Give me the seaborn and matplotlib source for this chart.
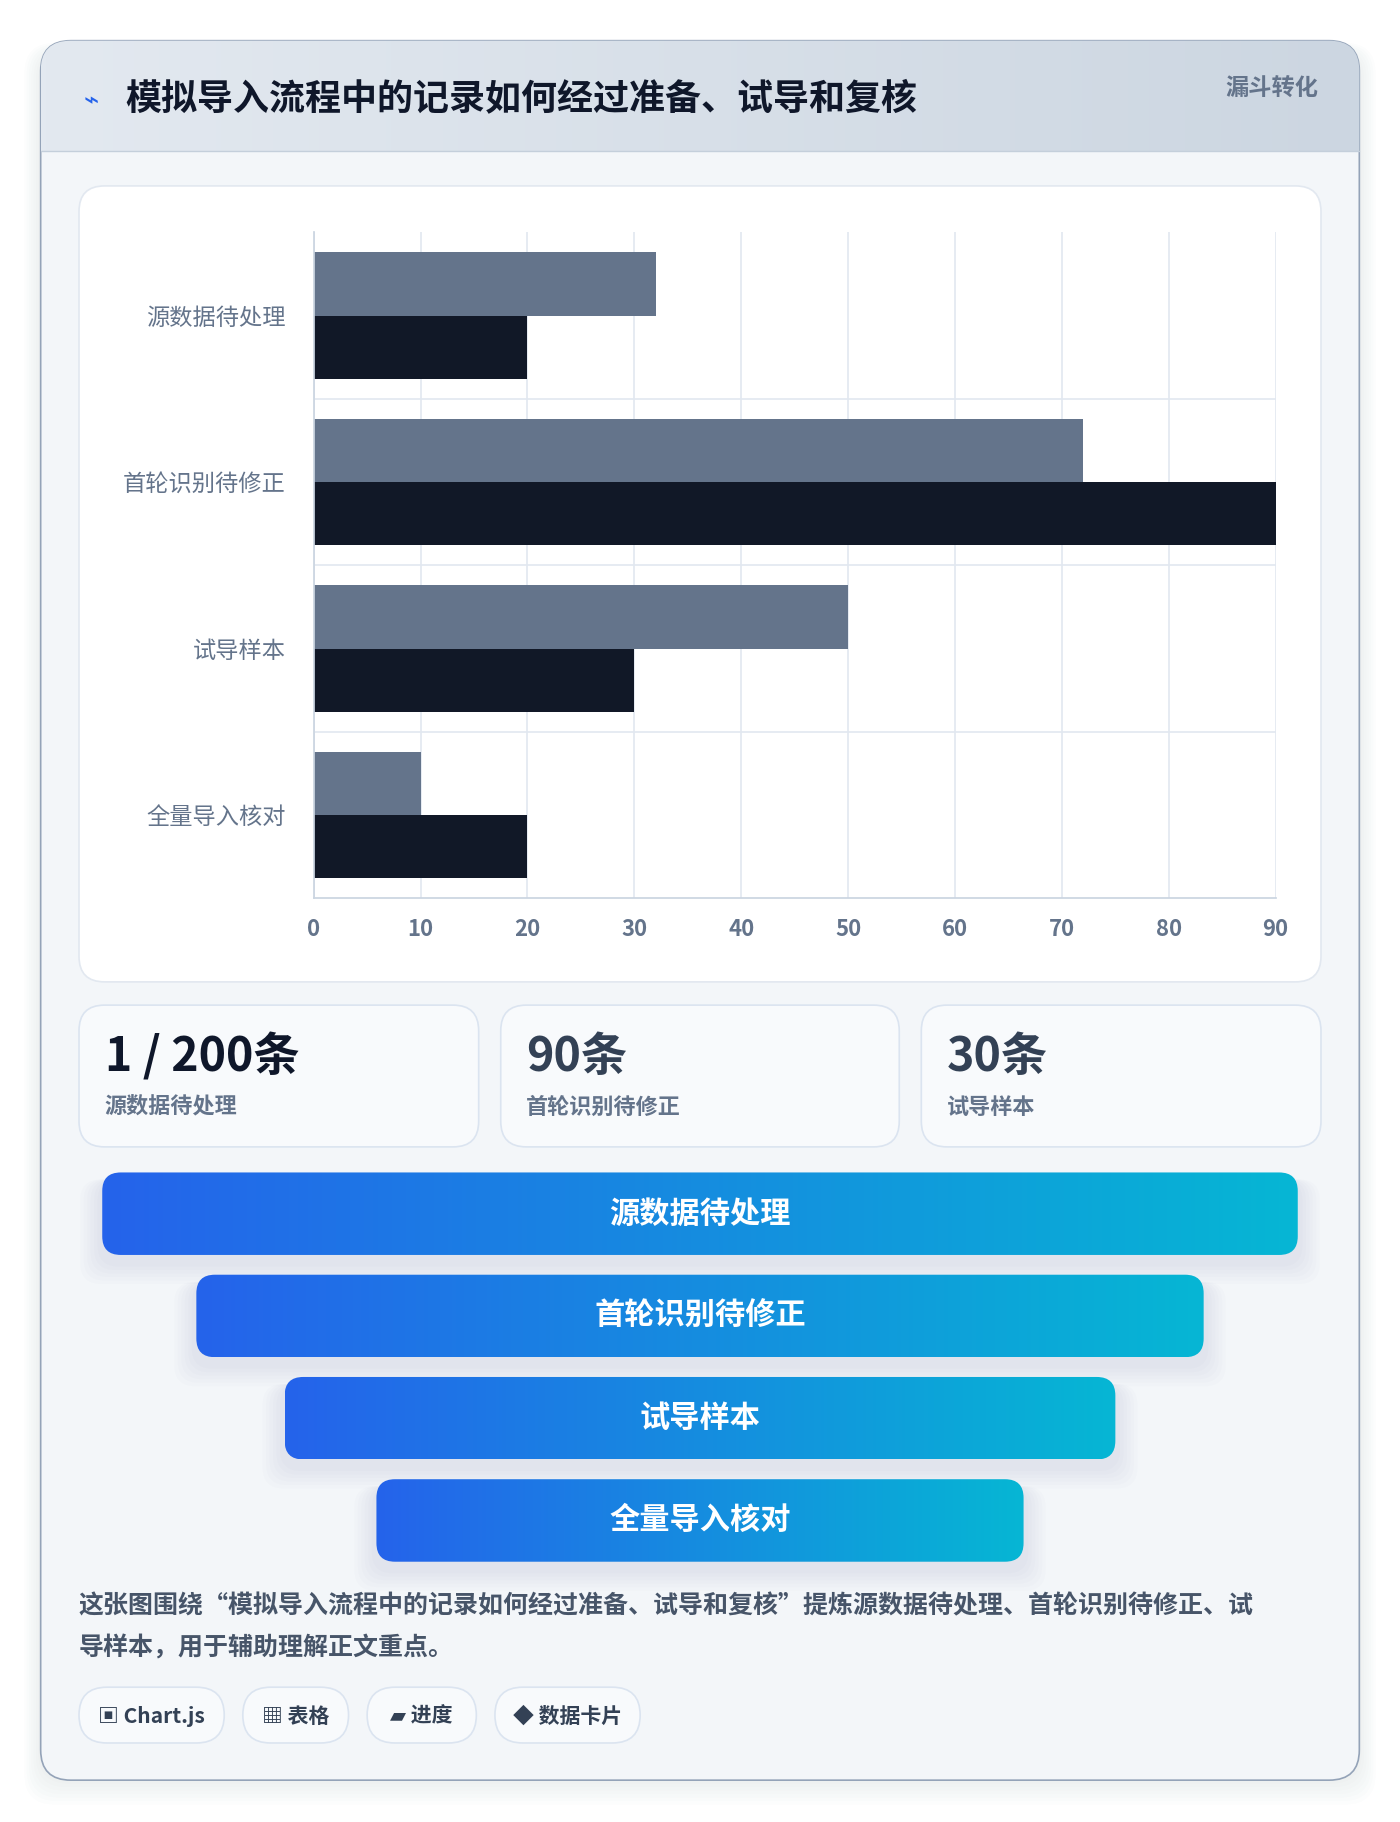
import numpy as np
import pandas as pd
import matplotlib
matplotlib.use("Agg")
import matplotlib.pyplot as plt
import seaborn as sns
from matplotlib.patches import FancyBboxPatch

categories = ["源数据待处理", "首轮识别待修正", "试导样本", "全量导入核对"]
series_a = [32, 72, 50, 10]
series_b = [20, 90, 30, 20]
stat_values = ["1 / 200条", "90条", "30条"]
stat_labels = ["源数据待处理", "首轮识别待修正", "试导样本"]
funnel_labels = ["源数据待处理", "首轮识别待修正", "试导样本", "全量导入核对"]
chips = ["▣ Chart.js", "▦ 表格", "▰ 进度", "◆ 数据卡片"]
title = "模拟导入流程中的记录如何经过准备、试导和复核"
badge = "漏斗转化"
note = ["这张图围绕“模拟导入流程中的记录如何经过准备、试导和复核”提炼源数据待处理、首轮识别待修正、试",
        "导样本，用于辅助理解正文重点。"]

sns.set_theme(style="white")
plt.rcParams['font.family'] = ['Noto Sans CJK SC', 'DejaVu Sans']

W, H = 1205, 1568
S = 1400 / W
def fs(px):
    return px * S * 0.72

fig = plt.figure(figsize=(14, 18.22), dpi=100)
fig.patch.set_facecolor("white")
bg = fig.add_axes([0, 0, 1, 1])
bg.set_xlim(0, W); bg.set_ylim(H, 0); bg.axis("off")

def rbox(x0, y0, x1, y1, r, fc, ec="none", lw=1, z=1, ax=bg):
    p = FancyBboxPatch((x0, y0), x1 - x0, y1 - y0, boxstyle=f"round,pad=0,rounding_size={r}",
                       fc=fc, ec=ec, lw=lw, zorder=z)
    ax.add_patch(p)
    return p

# shadow + card
for i in range(8):
    rbox(35 - i*2, 40 - i*1 + 4, 1170 + i*2, 1532 + i*3, 26, (0.3, 0.35, 0.45, 0.012), z=0)
card = rbox(35, 35, 1170, 1532, 26, "#f3f6f9", ec="#94a3b8", lw=1.2, z=1)
# header band
grad = np.linspace(0, 1, 256).reshape(1, -1)
hdr = bg.imshow(grad, extent=(35, 1170, 130, 35), cmap=matplotlib.colors.LinearSegmentedColormap.from_list("h", ["#e3e9f0", "#ccd6e1"]),
                aspect="auto", zorder=2)
hdr.set_clip_path(card)
bg.plot([35, 1170], [130, 130], color="#c4cfdb", lw=1, zorder=3)
bg.text(72, 87, "⌁", color="#2563eb", fontsize=fs(22), va="center", zorder=4, family=['DejaVu Sans'])
bg.text(108, 85, title, fontsize=fs(31), fontweight="bold", color="#0f172a", va="center", zorder=4)
bg.text(1135, 77, badge, fontsize=fs(20), fontweight="bold", color="#64748b", va="center", ha="right", zorder=4)

# chart panel
rbox(68, 160, 1137, 845, 22, "white", ec="#e2e8f0", lw=1.2, z=2)
ax = fig.add_axes([270 / W, 1 - 773 / H, (1098 - 270) / W, (773 - 200) / H])
df = pd.DataFrame({"cat": categories * 2, "val": series_a + series_b,
                   "s": ["a"] * 4 + ["b"] * 4})
sns.barplot(data=df, y="cat", x="val", hue="s", palette=["#64748b", "#111827"],
            orient="h", ax=ax, width=0.76, legend=False, saturation=1)
for p in ax.patches:
    p.set_edgecolor("none")
ax.set_xlim(0, 90)
ax.set_xticks(range(0, 91, 10))
ax.set_ylim(3.5, -0.5)
ax.set_xlabel(""); ax.set_ylabel("")
ax.set_facecolor("none")
for yb in [0.5, 1.5, 2.5]:
    ax.axhline(yb, color="#e2e8f0", lw=1.2, zorder=0)
ax.grid(axis="x", color="#e2e8f0", lw=1.2)
ax.set_axisbelow(True)
for sp in ["top", "right"]:
    ax.spines[sp].set_visible(False)
ax.spines["left"].set_color("#cbd5e1"); ax.spines["bottom"].set_color("#cbd5e1")
ax.tick_params(axis="x", colors="#64748b", labelsize=fs(19), length=8, color="#cbd5e1", pad=6)
ax.tick_params(axis="y", colors="#64748b", labelsize=fs(20), length=18, color="#e2e8f0", pad=2)
for t in ax.get_xticklabels():
    t.set_fontweight("bold")

# stat cards
xs = [(68, 412), (431, 774), (793, 1137)]
for (x0, x1), v, l in zip(xs, stat_values, stat_labels):
    rbox(x0, 865, x1, 987, 22, "#f8fafc", ec="#dbe4f0", lw=1.2, z=2)
    bg.text(x0 + 22, 910, v, fontsize=fs(40), fontweight="bold",
            color="#0f172a" if v == stat_values[0] else "#334155", va="center", zorder=3)
    bg.text(x0 + 22, 953, l, fontsize=fs(19), fontweight="bold", color="#64748b", va="center", zorder=3)

# funnel
cmap = matplotlib.colors.LinearSegmentedColormap.from_list("f", ["#2563eb", "#06b6d4"])
fx = [(88, 1117), (169, 1036), (245, 960), (324, 881)]
for i, ((x0, x1), lab) in enumerate(zip(fx, funnel_labels)):
    y0 = 1009 + i * 88
    y1 = y0 + 71
    for k in range(6):
        rbox(x0 - 4 - k*3, y0 + 6, x1 + 4 + k*3, y1 + 10 + k*3, 18, (0.3, 0.4, 0.55, 0.015), z=2)
    clip = rbox(x0, y0, x1, y1, 16, "none", z=3)
    im = bg.imshow(grad, extent=(x0, x1, y1, y0), cmap=cmap, aspect="auto", zorder=3)
    im.set_clip_path(clip)
    bg.text((x0 + x1) / 2, (y0 + y1) / 2, lab, color="white", fontsize=fs(26),
            fontweight="bold", ha="center", va="center", zorder=4)

# note
for j, line in enumerate(note):
    bg.text(68, 1382 + j * 36, line, fontsize=fs(21.5), fontweight="bold", color="#475569",
            va="center", zorder=3)

# chips
cx = [(68, 193), (209, 300), (316, 410), (426, 551)]
for (x0, x1), c in zip(cx, chips):
    rbox(x0, 1452, x1, 1500, 24, "#f8fafc", ec="#dbe4f0", lw=1.2, z=2)
    bg.text((x0 + x1) / 2, 1477, c, fontsize=fs(18), fontweight="bold", color="#334155",
            ha="center", va="center", zorder=3, family=['Noto Sans CJK SC', 'DejaVu Sans'])

bg.set_xlim(0, W); bg.set_ylim(H, 0)
fig.savefig("out.png", dpi=100)
